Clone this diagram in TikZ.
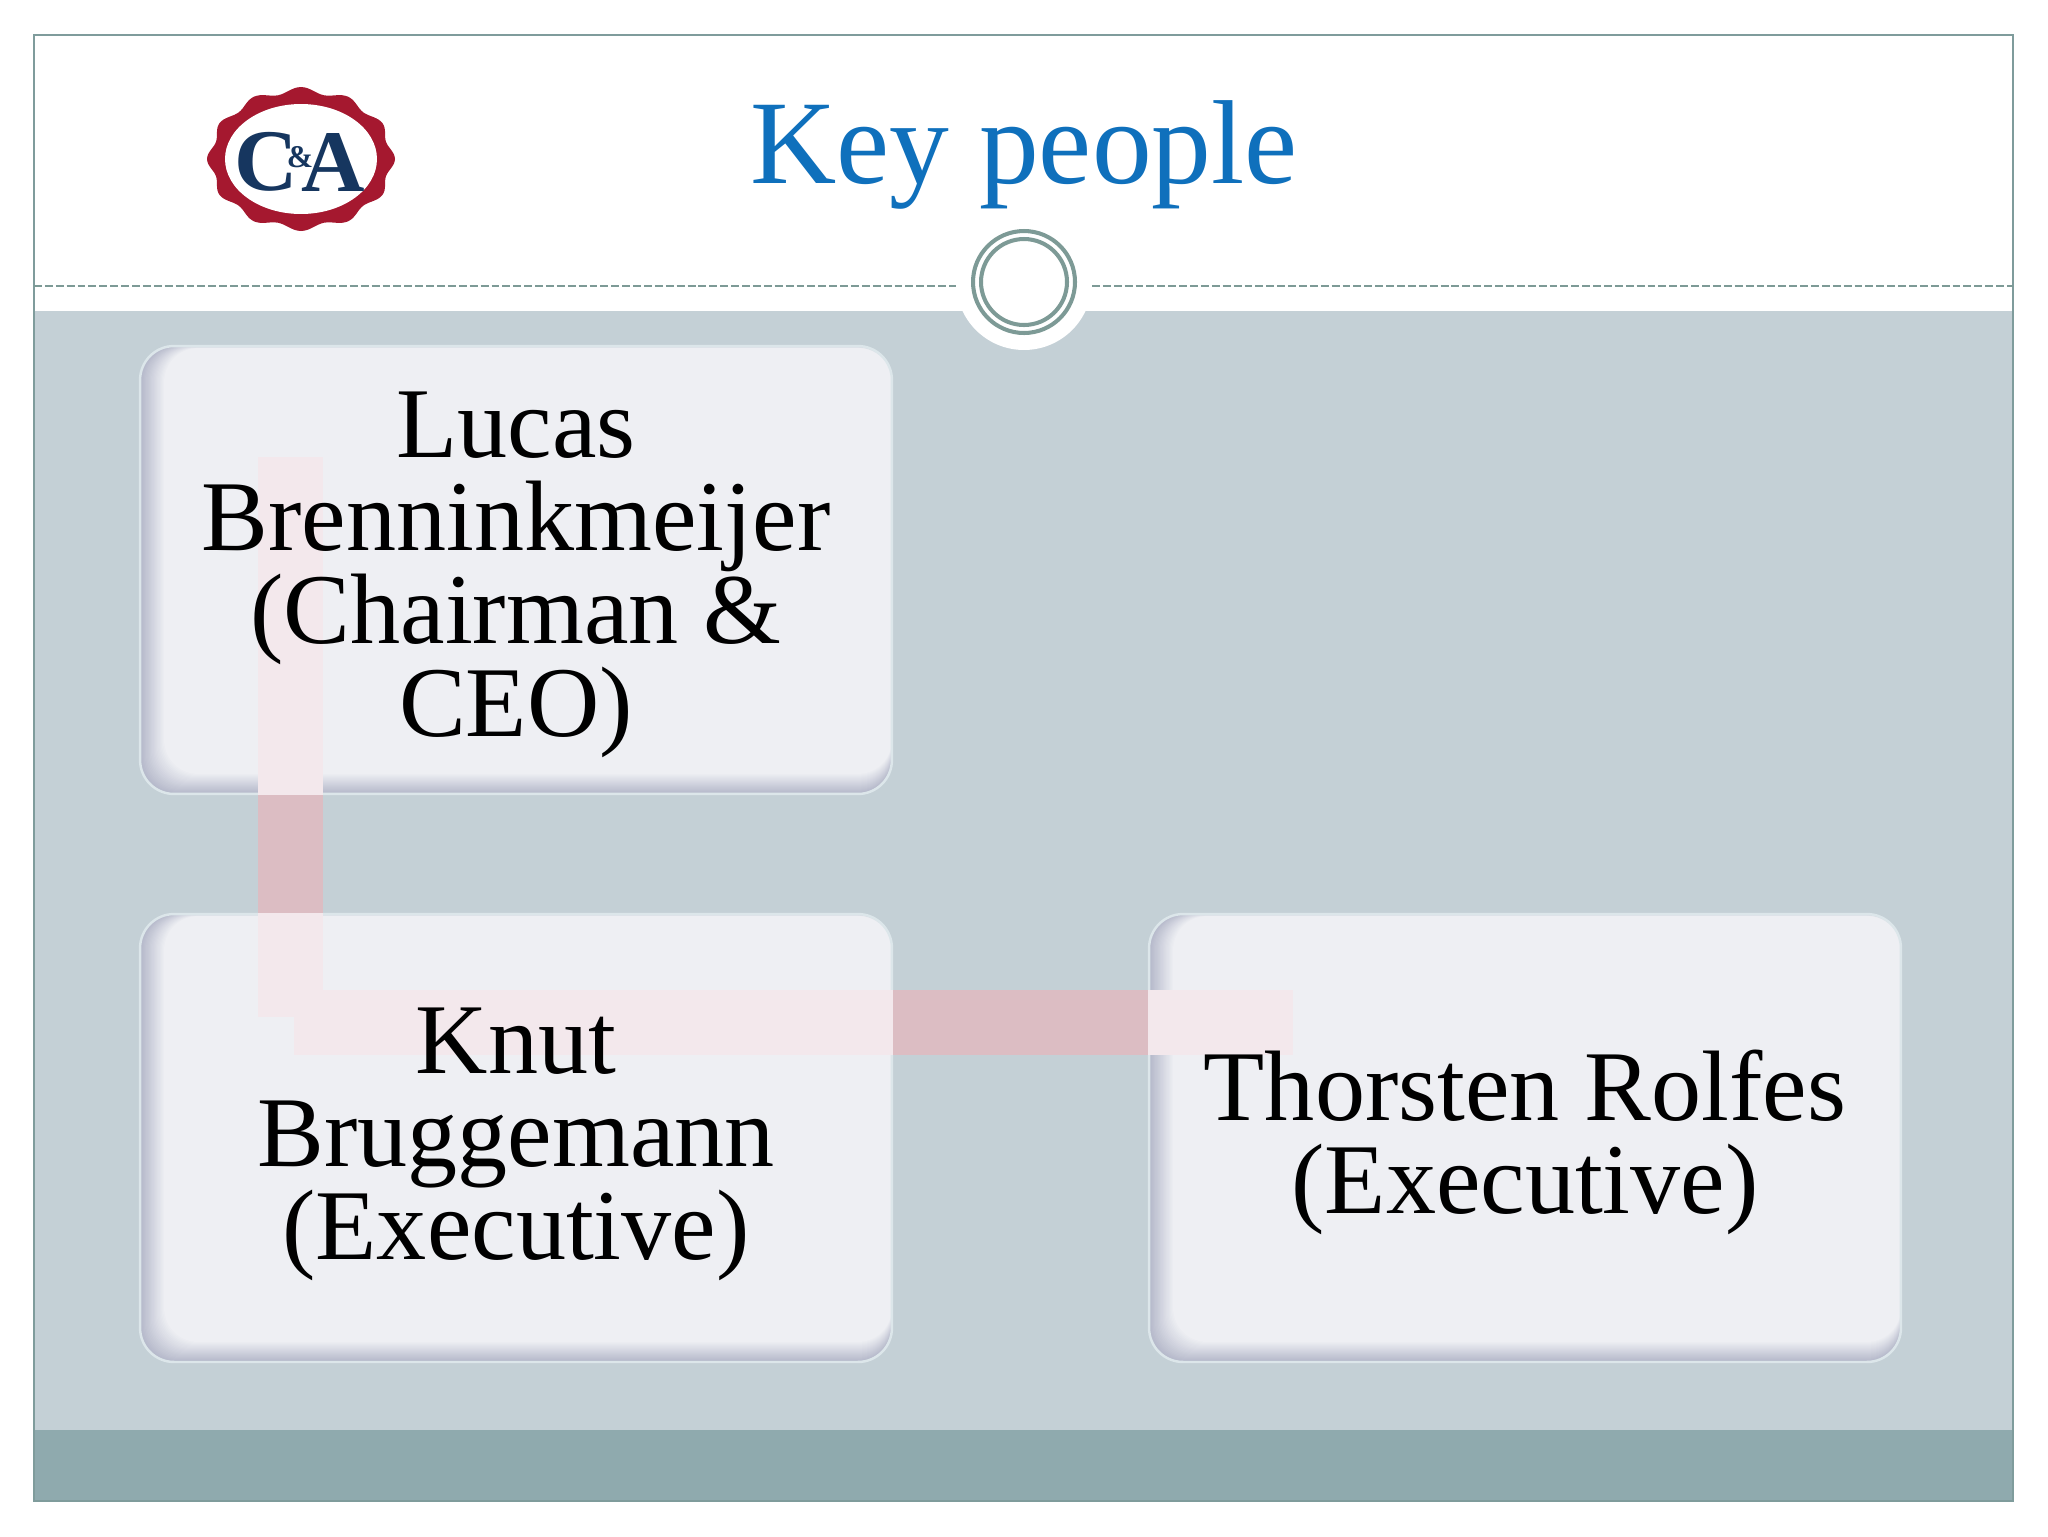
\documentclass[tikz,border=0pt]{standalone}
\usepackage{fontspec}
\setmainfont{Liberation Serif}

\definecolor{pagefill}{HTML}{C4D0D6}
\definecolor{barfill}{HTML}{8FAAAE}
\definecolor{framecol}{HTML}{7F9C9C}
\definecolor{ringcol}{HTML}{7D9A96}
\definecolor{titlecol}{HTML}{0F70BC}
\definecolor{boxfill}{HTML}{EEEFF3}
\definecolor{boxedge}{HTML}{B4B8CA}
\definecolor{boxrim}{HTML}{DCE6EA}
\definecolor{linkpale}{HTML}{F3E8EC}
\definecolor{linkdark}{HTML}{DCBDC3}
\definecolor{logored}{HTML}{A5182F}
\definecolor{logonavy}{HTML}{16365F}

\tikzset{
	personbox/.style={rounded corners=0.68cm, minimum width=15.04cm, minimum height=8.96cm,
		fill=boxedge, draw=boxrim, line width=1.4pt, inner sep=0pt,
		path picture={
			\foreach \i in {0,...,20} {
				\pgfmathtruncatemacro\mixval{5*\i}
				\fill[boxfill!\mixval!boxedge, rounded corners=0.68cm]
					([xshift=\i*0.024cm,yshift=\i*0.02cm]path picture bounding box.south west)
					rectangle ([yshift=-\i*0.002cm]path picture bounding box.north east);
			}
		}},
	persontext/.style={align=center, font=\fontsize{57}{53}\selectfont, inner sep=0pt},
	linkband/.style={linkpale, line width=37pt},
	linkgap/.style={linkdark, line width=37pt},
	logoletter/.style={logonavy, inner sep=0pt, font=\fontsize{50}{50}\selectfont\bfseries}
}

\begin{document}
\begin{tikzpicture}[x=0.02cm,y=-0.02cm]
	\useasboundingbox (0,0) rectangle (2048,1536);
	\fill[white] (0,0) rectangle (2048,1536);

	\fill[pagefill] (34,311) rectangle (2013,1430);
	\fill[barfill] (34,1430) rectangle (2013,1501);
	\draw[framecol, line width=0.8pt] (34,35) rectangle (2013,1501);

	% header
	\node[circle, fill=white, minimum size=2.72cm, inner sep=0pt] (hubback) at (1024,282) {};
	\node[circle, fill=white, draw=ringcol, line width=2.3pt, minimum size=2.04cm, inner sep=0pt] (hubouter) at (1024,282) {};
	\node[circle, draw=ringcol, line width=2.3pt, minimum size=1.72cm, inner sep=0pt] (hubinner) at (1024,282) {};
	\coordinate (ruleleft) at (34,286);
	\coordinate (ruleright) at (2013,286);
	\draw[ringcol, line width=1pt, dash pattern=on 4.5pt off 1.7pt] (ruleleft) -- (956,286)
	      (1092,286) -- (ruleright);
	\node[titlecol, inner sep=0pt, font=\fontsize{68}{68}\selectfont] (title) at (1024,155) {Key people};

	% logo
	\fill[logored] plot[smooth cycle, samples=96, domain=0:356.25, variable=\t]
		({301+(91+3*cos(12*\t))*cos(\t)}, {159+(69+3*cos(12*\t))*sin(\t)});
	\fill[white] (301,159) ellipse [x radius=1.52cm, y radius=1.1cm];
	\node[logoletter] (logoc) at (266,162) {C};
	\node[logoletter] (logoa) at (333,162) {A};
	\node[logoletter, font=\fontsize{18}{18}\selectfont\bfseries] (logoamp) at (300,157) {\&};

	% boxes
	\node[personbox] (lucas) at (516,570) {};
	\node[personbox] (knut) at (516,1138) {};
	\node[personbox] (thorsten) at (1525,1138) {};

	% links
	\coordinate (lucasin) at (290,457);
	\coordinate (kneedown) at (290,1017);
	\coordinate (kneeout) at (294,1022);
	\coordinate (thorstenin) at (1293,1022);
	\draw[linkband] (lucasin) -- (kneedown);
	\draw[linkband] (kneeout) -- (thorstenin);
	\draw[linkgap] (lucas.south -| lucasin) -- (knut.north -| lucasin);
	\draw[linkgap] (knut.east |- kneeout) -- (thorsten.west |- kneeout);

	% texts
	\node[persontext] (lucastext) at (516,575) {Lucas\\Brenninkmeijer\\(Chairman \&\\CEO)};
	\node[persontext] (knuttext) at (516,1144) {Knut\\Bruggemann\\(Executive)};
	\node[persontext] (thorstentext) at (1525,1142) {Thorsten Rolfes\\(Executive)};
\end{tikzpicture}
\end{document}
